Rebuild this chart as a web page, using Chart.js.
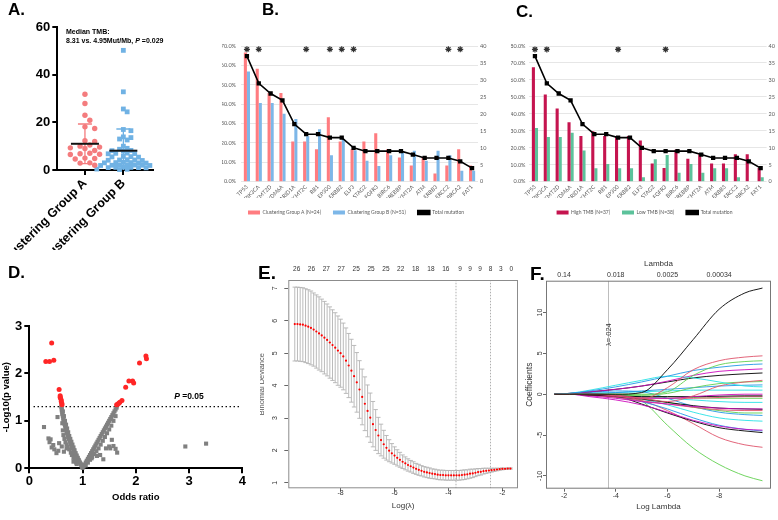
<!DOCTYPE html>
<html lang="en">
<head>
<meta charset="UTF-8">
<title>TMB clustering figure</title>
<script src="https://cdn.jsdelivr.net/npm/chart.js"></script>
<style>
  * { margin: 0; padding: 0; box-sizing: border-box; }
  body { width: 778px; height: 520px; background: #fff; position: relative; overflow: hidden;
         font-family: "Liberation Sans", Arial, sans-serif; }
  canvas { position: absolute; }
  .tag { position: absolute; font-weight: bold; font-size: 17px; line-height: 17px; z-index: 2; color: #000; }
</style>
</head>
<body>
<canvas id="cA" width="200" height="250" style="left:0;top:0"></canvas>
<canvas id="cB" width="290" height="195" style="left:200px;top:30px"></canvas>
<canvas id="cC" width="288" height="195" style="left:490px;top:30px"></canvas>
<canvas id="cD" width="260" height="270" style="left:0;top:250px"></canvas>
<canvas id="cE" width="262" height="265" style="left:260px;top:255px"></canvas>
<canvas id="cF" width="263" height="265" style="left:515px;top:255px"></canvas>

<div class="tag" style="left:8px;top:1px">A.</div>
<div class="tag" style="left:262px;top:1px">B.</div>
<div class="tag" style="left:516px;top:3px">C.</div>
<div class="tag" style="left:8px;top:264px">D.</div>
<div class="tag" style="left:258px;top:264px;font-size:19px">E.</div>
<div class="tag" style="left:530px;top:265px;font-size:19px">F.</div>

<script>
// ---------------- data ----------------
// A: TMB (Mut/Mb) per patient
const groupNames = ['Clustering Group A', 'Clustering Group B'];
const tmbA = [31.8, 27.9, 23.0, 20.9, 18.1, 17.4, 12.3, 12.0, 10.5, 10.0, 9.6, 9.3,
              9.0, 8.2, 7.0, 6.8, 6.6, 6.5, 5.0, 4.8, 4.6, 3.0, 2.9, 2.0];
const tmbB = [50.2, 32.8, 25.6, 24.4, 17.0, 16.5, 13.9, 13.6, 13.0, 12.6, 10.0, 9.1, 8.7,
              8.2, 8.1, 7.9, 7.1, 7.0, 6.9, 6.8, 5.7, 5.6, 5.5, 5.4, 4.3, 4.2, 4.2, 4.1, 4.0,
              3.2, 3.1, 3.1, 3.0, 3.0, 2.9, 2.2, 2.1, 2.1, 2.0, 2.0, 1.9, 1.9,
              1.2, 1.1, 1.1, 1.0, 1.0, 0.9, 0.4, 0.3, 0.2];
const tmbMean = [11.0, 8.1];
const tmbSD = [8.3, 9.1];
const tmbNote = ['Median TMB:', '8.31 vs. 4.95Mut/Mb, ', 'P', ' =0.029'];

// B / C: mutation frequency per gene
const genes = ['TP53', 'PIK3CA', 'KMT2D', 'KDM6A', 'ARID1A', 'KMT2C', 'RB1', 'EP300', 'ERBB2', 'ELF3',
               'STAG2', 'FGFR3', 'BIRC6', 'CREBBP', 'KMT2A', 'ATM', 'ERBB3', 'ERCC2', 'BRCA2', 'FAT1'];
const pctGroupA = [66.7, 58.3, 45.8, 45.8, 20.8, 20.8, 16.7, 33.3, 20.8, 16.7,
                   20.8, 25.0, 16.7, 12.5, 8.3, 12.5, 4.2, 8.3, 16.7, 8.3];
const pctGroupB = [56.9, 40.6, 40.6, 35.1, 32.4, 23.5, 27.0, 13.7, 22.0, 16.2,
                   10.8, 8.1, 13.7, 15.7, 16.0, 10.8, 16.0, 13.7, 5.6, 5.6];
const totalMut = [37, 29, 26, 24, 17, 14, 14, 13, 13, 10, 9, 9, 9, 9, 8, 7, 7, 7, 6, 4];
const sigB = [1, 1, 0, 0, 0, 1, 0, 1, 1, 1, 0, 0, 0, 0, 0, 0, 0, 1, 1, 0];
const pctHigh = [67.5, 51.4, 43.1, 35.1, 26.9, 29.7, 27.0, 26.3, 27.0, 24.3,
                 10.8, 8.1, 18.9, 13.5, 16.2, 10.8, 10.8, 16.2, 16.2, 8.1];
const pctLow = [31.6, 26.3, 26.3, 28.9, 18.4, 7.9, 10.5, 7.9, 7.9, 2.6,
                13.2, 15.8, 5.3, 10.5, 5.3, 7.9, 7.9, 2.6, 0, 2.6];
const sigC = [1, 1, 0, 0, 0, 0, 0, 1, 0, 0, 0, 1, 0, 0, 0, 0, 0, 0, 0, 0];

// D: volcano, [odds ratio, -log10 p]
const volcanoSig = [[0.31, 2.25], [0.38, 2.25], [0.42, 2.64], [0.46, 2.28], [0.56, 1.66], [0.58, 1.53],
  [0.585, 1.48], [0.60, 1.44], [0.60, 1.41], [0.61, 1.37], [0.58, 1.50], [0.615, 1.34],
  [1.64, 1.34], [1.66, 1.35], [1.68, 1.37], [1.70, 1.39], [1.74, 1.43], [1.81, 1.71], [1.87, 1.84],
  [1.94, 1.84], [1.96, 1.80], [2.07, 2.22], [2.19, 2.37], [2.20, 2.31]];
const volcanoNS = [
  [0.60, 1.30], [0.61, 1.26], [0.61, 1.22], [0.62, 1.18], [0.62, 1.14], [0.63, 1.10], [0.64, 1.06],
  [0.64, 1.02], [0.65, 0.98], [0.66, 0.94], [0.67, 0.90], [0.68, 0.86], [0.69, 0.82], [0.70, 0.78],
  [0.71, 0.74], [0.72, 0.70], [0.73, 0.66], [0.74, 0.62], [0.76, 0.58], [0.77, 0.54], [0.78, 0.50],
  [0.80, 0.46], [0.81, 0.42], [0.83, 0.38], [0.84, 0.34], [0.86, 0.30], [0.88, 0.26], [0.90, 0.22],
  [0.92, 0.18], [0.94, 0.14], [0.96, 0.10], [0.98, 0.06], [0.99, 0.03], [1.00, 0.01],
  [0.63, 1.20], [0.65, 1.10], [0.67, 1.00], [0.69, 0.92], [0.71, 0.84], [0.73, 0.76], [0.75, 0.68],
  [0.77, 0.62], [0.79, 0.56], [0.81, 0.50], [0.83, 0.44], [0.85, 0.38], [0.87, 0.32], [0.89, 0.27],
  [0.91, 0.22], [0.93, 0.17], [0.95, 0.12], [0.97, 0.08],
  [0.62, 0.95], [0.63, 0.80], [0.64, 0.70], [0.66, 0.62], [0.68, 0.55], [0.70, 0.50], [0.72, 0.45],
  [0.75, 0.40], [0.78, 0.33], [0.80, 0.28], [0.83, 0.22], [0.86, 0.17], [0.88, 0.12],
  [1.02, 0.04], [1.04, 0.08], [1.06, 0.12], [1.08, 0.16], [1.10, 0.20], [1.12, 0.24], [1.14, 0.28],
  [1.16, 0.32], [1.18, 0.36], [1.20, 0.40], [1.22, 0.44], [1.24, 0.48], [1.26, 0.52], [1.28, 0.56],
  [1.30, 0.60], [1.32, 0.64], [1.34, 0.68], [1.36, 0.72], [1.38, 0.76], [1.40, 0.80], [1.42, 0.84],
  [1.44, 0.88], [1.46, 0.92], [1.48, 0.96], [1.50, 1.00], [1.52, 1.04], [1.54, 1.08], [1.56, 1.12],
  [1.58, 1.16], [1.60, 1.20], [1.62, 1.24], [1.64, 1.28],
  [1.06, 0.06], [1.10, 0.12], [1.14, 0.18], [1.18, 0.24], [1.22, 0.30], [1.26, 0.36], [1.30, 0.42],
  [1.34, 0.50], [1.38, 0.58], [1.42, 0.66], [1.46, 0.74], [1.50, 0.82], [1.54, 0.90], [1.58, 1.00],
  [1.62, 1.10],
  [0.276, 0.87], [0.53, 1.08], [0.36, 0.63], [0.40, 0.61], [0.38, 0.55], [0.45, 0.49], [0.42, 0.44],
  [0.47, 0.40], [0.51, 0.32], [0.545, 0.37], [0.61, 0.46], [0.65, 0.35], [0.56, 0.53], [0.70, 0.42],
  [0.83, 0.14], [0.89, 0.09], [1.08, 0.14], [1.17, 0.21], [1.27, 0.26], [1.33, 0.28], [1.39, 0.19],
  [1.44, 0.42], [1.50, 0.46], [1.55, 0.60], [1.58, 0.47], [1.62, 0.41], [1.65, 0.33], [1.52, 0.42],
  [2.93, 0.46], [3.32, 0.52]];
const pCut = 1.301;

// E: cross-validation (binomial deviance)
const cvLogLambda = [-9.7, -9.6, -9.5, -9.4, -9.3, -9.2, -9.1, -9.0, -8.9, -8.8,
  -8.7, -8.6, -8.5, -8.4, -8.3, -8.2, -8.1, -8.0, -7.9, -7.8,
  -7.7, -7.6, -7.5, -7.4, -7.3, -7.2, -7.1, -7.0, -6.9, -6.8,
  -6.7, -6.6, -6.5, -6.4, -6.3, -6.2, -6.1, -6.0, -5.9, -5.8,
  -5.7, -5.6, -5.5, -5.4, -5.3, -5.2, -5.1, -5.0, -4.9, -4.8,
  -4.7, -4.6, -4.5, -4.4, -4.3, -4.2, -4.1, -4.0, -3.9, -3.8,
  -3.7, -3.6, -3.5, -3.4, -3.3, -3.2, -3.1, -3.0, -2.9, -2.8,
  -2.7, -2.6, -2.5, -2.4, -2.3, -2.2, -2.1, -2.0, -1.9, -1.8, -1.7];
const cvMean = [5.90, 5.90, 5.89, 5.88, 5.85, 5.82, 5.78, 5.73, 5.67, 5.61,
  5.55, 5.48, 5.41, 5.33, 5.25, 5.17, 5.08, 5.00, 4.90, 4.77,
  4.62, 4.46, 4.29, 4.10, 3.88, 3.65, 3.44, 3.22, 3.01, 2.81,
  2.63, 2.46, 2.32, 2.19, 2.08, 1.99, 1.91, 1.84, 1.77, 1.71,
  1.65, 1.60, 1.55, 1.51, 1.47, 1.43, 1.40, 1.37, 1.34, 1.32,
  1.30, 1.28, 1.27, 1.25, 1.24, 1.24, 1.23, 1.23, 1.23, 1.23,
  1.23, 1.23, 1.24, 1.25, 1.26, 1.28, 1.29, 1.31, 1.33, 1.34,
  1.36, 1.37, 1.38, 1.39, 1.40, 1.41, 1.42, 1.43, 1.43, 1.44, 1.44];
const cvSE = [1.14, 1.14, 1.14, 1.14, 1.14, 1.14, 1.14, 1.13, 1.13, 1.13,
  1.12, 1.12, 1.11, 1.10, 1.09, 1.08, 1.07, 1.05, 1.03, 1.01,
  0.99, 0.97, 0.95, 0.92, 0.89, 0.86, 0.83, 0.80, 0.76, 0.70,
  0.63, 0.56, 0.49, 0.43, 0.38, 0.34, 0.30, 0.27, 0.25, 0.23,
  0.21, 0.20, 0.19, 0.18, 0.18, 0.17, 0.17, 0.16, 0.16, 0.16,
  0.16, 0.15, 0.15, 0.15, 0.15, 0.15, 0.15, 0.15, 0.15, 0.15,
  0.15, 0.15, 0.15, 0.15, 0.14, 0.14, 0.13, 0.12, 0.11, 0.10,
  0.09, 0.08, 0.07, 0.06, 0.05, 0.04, 0.03, 0.03, 0.02, 0.02, 0.02];
const nzeroAt = [-9.63, -9.08, -8.53, -7.98, -7.42, -6.87, -6.32, -5.77, -5.22, -4.65,
                 -4.10, -3.57, -3.20, -2.83, -2.44, -2.06, -1.67];
const nzero = [26, 26, 27, 27, 25, 25, 25, 22, 18, 18, 16, 9, 9, 9, 8, 3, 0];
const lambdaMin = -3.72;
const lambda1se = -2.44;

// F: coefficient paths
const pathLogLambda = [-1.62, -2.2, -3, -4, -5, -6, -7, -8, -9, -9.68];
const coefPaths = [
  [0, 0, 0, 0, 0.2, 3.0, 6.7, 10.4, 12.4, 13.0],
  [0, 0, 0, -0.2, -0.6, 0.8, 3.0, 4.1, 4.55, 4.7],
  [0, 0, 0, 0, 0, 0.3, 2.3, 3.6, 4.0, 4.1],
  [0, 0.1, 0.4, 0.9, 1.5, 2.2, 2.9, 3.3, 3.6, 3.7],
  [0, 0.1, 0.5, 1.1, 1.7, 2.2, 2.0, 1.5, 1.0, 0.9],
  [0, 0.1, 0.3, 0.6, 1.0, 1.6, 2.3, 2.8, 3.0, 3.1],
  [0, 0.1, 0.3, 0.6, 1.0, 1.5, 2.0, 2.3, 2.5, 2.6],
  [0, 0, 0, -0.1, -0.5, -0.9, -0.2, 1.0, 1.5, 1.7],
  [0, 0, 0, 0, -0.1, 0.1, 0.8, 1.3, 1.5, 1.55],
  [0, 0, 0.1, 0.2, 0.4, 0.6, 0.8, 1.0, 1.1, 1.14],
  [0, 0, 0.1, 0.2, 0.3, 0.4, 0.5, 0.5, 0.5, 0.5],
  [0, 0, 0, -0.2, -0.5, -0.5, -0.3, -0.1, 0, 0],
  [0, 0, -0.1, -0.2, -0.3, -0.3, -0.3, -0.25, -0.2, -0.2],
  [0, 0, -0.1, -0.3, -0.4, -0.5, -0.5, -0.4, -0.3, -0.3],
  [0, 0, 0, -0.1, -0.2, -0.3, -0.4, -0.5, -0.5, -0.5],
  [0, 0, 0, -0.1, -0.3, -0.5, -0.7, -0.9, -1.0, -1.0],
  [0, 0, -0.2, -0.5, -0.9, -1.2, -1.5, -1.7, -1.8, -1.8],
  [0, 0, -0.1, -0.3, -0.6, -1.0, -1.4, -1.7, -1.8, -1.85],
  [0, 0, -0.1, -0.4, -0.8, -1.2, -1.6, -1.9, -2.0, -2.0],
  [0, 0, 0, -0.2, -0.5, -1.0, -1.6, -2.0, -2.3, -2.3],
  [0, 0, 0.2, 0.4, 0.3, -0.5, -1.5, -2.2, -2.5, -2.6],
  [0, 0, 0, -0.2, -0.6, -1.3, -2.2, -2.9, -3.2, -3.3],
  [0, 0, -0.3, -0.7, -1.3, -2.2, -3.2, -3.9, -4.3, -4.4],
  [0, 0, 0, -0.3, -0.9, -1.8, -2.9, -3.8, -4.3, -4.5],
  [0, 0, 0, -0.2, -1.2, -2.3, -3.3, -4.1, -4.5, -4.7],
  [0, 0, -0.1, -0.3, -0.8, -2.0, -3.6, -5.3, -6.2, -6.5],
  [0, 0, 0, -0.1, -0.8, -3.8, -6.6, -8.6, -10.0, -10.6]];
const coefColor = [0, 1, 2, 3, 4, 5, 0, 1, 2, 3, 4, 5, 0, 1, 2, 4, 5, 0, 1, 2, 3, 4, 5, 3, 0, 1, 2];
const lambdaTickAt = [-2, -4, -6, -8];
const lambdaTickLabel = ['0.14', '0.018', '0.0025', '0.00034'];

// ---------------- shared setup ----------------
Chart.defaults.font.family = '"Liberation Sans", Arial, sans-serif';
Chart.defaults.animation = false;
Chart.defaults.responsive = false;
Chart.defaults.maintainAspectRatio = false;
Chart.defaults.plugins.legend.display = false;
Chart.defaults.plugins.tooltip.enabled = false;

const rPalette = ['#000000', '#DF536B', '#61D04F', '#2297E6', '#28E2E5', '#CD0BBC'];
const fixedTicks = vals => scale => { scale.ticks = vals.map(v => ({value: v})); };
// fix an axis box size and stop it from pushing the plot area around
const fitTo = (w, h) => s => {
  if (w !== null) s.width = w;
  if (h !== null) s.height = h;
  s.paddingLeft = s.paddingRight = s.paddingTop = s.paddingBottom = 0;
};

// box round the plot region (R style)
const boxPlugin = {
  id: 'box',
  afterDraw(chart, args, opts) {
    const a = chart.chartArea, ctx = chart.ctx;
    ctx.save();
    ctx.strokeStyle = opts.color || '#888';
    ctx.lineWidth = 1;
    ctx.strokeRect(a.left + 0.5, a.top + 0.5, a.right - a.left - 1, a.bottom - a.top - 1);
    ctx.restore();
  }
};

// y tick labels turned 90 degrees (R las=0)
const rotYPlugin = {
  id: 'rotY',
  afterDraw(chart, args, opts) {
    const s = chart.scales.y, ctx = chart.ctx;
    ctx.save();
    ctx.font = opts.font;
    ctx.fillStyle = opts.color;
    ctx.textAlign = 'center';
    ctx.textBaseline = 'middle';
    s.ticks.forEach(t => {
      ctx.save();
      ctx.translate(chart.chartArea.left - opts.gap, s.getPixelForValue(t.value));
      ctx.rotate(-Math.PI / 2);
      ctx.fillText(String(t.value), 0, 0);
      ctx.restore();
    });
    ctx.restore();
  }
};

// ---------------- A ----------------
// simple beeswarm so dots of equal value sit side by side
function swarm(values, centre, diam, pxPerVal, pxPerCat) {
  const placed = [];
  return values.map(v => {
    let off = 0;
    for (let k = 0; k < 30; k++) {
      const cand = k === 0 ? 0 : (k % 2 ? 1 : -1) * Math.ceil(k / 2) * diam * 0.9;
      const hit = placed.some(p => Math.hypot(p.x - cand, (p.v - v) * pxPerVal) < diam);
      if (!hit) { off = cand; break; }
    }
    placed.push({x: off, v: v});
    return {x: centre + off / pxPerCat, y: v};
  });
}

const groupColors = ['#F47C7E', '#70B2E4'];
const pxVal = 143.3 / 60, pxCat = 38.3;

const panelAExtras = {
  id: 'panelAExtras',
  afterDatasetsDraw(chart) {
    const {ctx, scales: {x, y}} = chart;
    ctx.save();
    tmbMean.forEach((m, i) => {
      const cx = x.getPixelForValue(i);
      const top = y.getPixelForValue(m + tmbSD[i]);
      const lo = Math.max(0, m - tmbSD[i]);
      const bot = y.getPixelForValue(lo);
      ctx.strokeStyle = groupColors[i];
      ctx.lineWidth = 1.3;
      ctx.beginPath();
      ctx.moveTo(cx, top); ctx.lineTo(cx, bot);
      ctx.moveTo(cx - 7, top); ctx.lineTo(cx + 7, top);
      if (lo > 0) { ctx.moveTo(cx - 7, bot); ctx.lineTo(cx + 7, bot); }
      ctx.stroke();
      const my = y.getPixelForValue(m);
      ctx.strokeStyle = '#111';
      ctx.lineWidth = 2;
      ctx.beginPath(); ctx.moveTo(cx - 14, my); ctx.lineTo(cx + 14, my); ctx.stroke();
    });
    // median note
    const fam = '"Liberation Sans", Arial, sans-serif';
    ctx.fillStyle = '#000';
    ctx.font = 'bold 7px ' + fam;
    ctx.fillText(tmbNote[0], 66, 33.5);
    let tx = 66;
    ctx.fillText(tmbNote[1], tx, 43); tx += ctx.measureText(tmbNote[1]).width;
    ctx.font = 'italic bold 7px ' + fam;
    ctx.fillText(tmbNote[2], tx, 43); tx += ctx.measureText(tmbNote[2]).width;
    ctx.font = 'bold 7px ' + fam;
    ctx.fillText(tmbNote[3], tx, 43);
    ctx.restore();
  }
};

const blackAxis = {
  border: {display: true, color: '#000', width: 2},
  grid: {display: true, drawOnChartArea: false, drawTicks: true, tickLength: 5, color: '#000', lineWidth: 2}
};

new Chart(document.getElementById('cA'), {
  type: 'scatter',
  data: {
    datasets: [
      {data: swarm(tmbA, 0, 5.4, pxVal, pxCat), pointStyle: 'circle', pointRadius: 2.7,
       backgroundColor: groupColors[0], borderWidth: 0, clip: false},
      {data: swarm(tmbB, 1, 4.2, pxVal, pxCat), pointStyle: 'rect', pointRadius: 3.4,
       backgroundColor: groupColors[1], borderWidth: 0, clip: false}
    ]
  },
  options: {
    layout: {padding: {top: 27, right: 46.7, left: 0, bottom: 0}},
    scales: {
      x: Object.assign({
        type: 'linear', min: -0.72, max: 1.78,
        afterBuildTicks: fixedTicks([0, 1]),
        afterFit: fitTo(null, 80),
        ticks: {callback: v => groupNames[v], minRotation: 45, maxRotation: 45, autoSkip: false,
                font: {size: 12.5, weight: 'bold'}, color: '#000', padding: 1}
      }, blackAxis),
      y: Object.assign({
        min: 0, max: 60,
        afterBuildTicks: fixedTicks([0, 20, 40, 60]),
        afterFit: fitTo(57.3, null),
        ticks: {font: {size: 13, weight: 'bold'}, color: '#000', padding: 2}
      }, blackAxis)
    }
  },
  plugins: [panelAExtras]
});

// ---------------- B and C ----------------
const smallFont = {size: 5.5, family: 'Lato'};

function mutationChart(id, o) {
  const rank = it => (it.datasetIndex === 1 ? 9 : it.datasetIndex);
  return new Chart(document.getElementById(id), {
    type: 'bar',
    data: {
      labels: genes,
      datasets: [
        {type: 'line', label: 'sig', data: o.sig.map(s => (s ? o.starAt : null)), yAxisID: 'y',
         showLine: false, pointStyle: 'star', pointRadius: 3, borderColor: '#333', borderWidth: 1.2},
        {type: 'line', label: 'Total mutation', data: totalMut, yAxisID: 'y1', borderColor: '#000',
         backgroundColor: '#000', borderWidth: 1.6, pointStyle: 'rect', pointRadius: 1.9},
        {label: o.names[0], data: o.a, backgroundColor: o.colors[0], yAxisID: 'y',
         barPercentage: 1, categoryPercentage: 0.52},
        {label: o.names[1], data: o.b, backgroundColor: o.colors[1], yAxisID: 'y',
         barPercentage: 1, categoryPercentage: 0.52}
      ]
    },
    options: {
      layout: {padding: {left: o.padLeft, top: 16, right: 0, bottom: 0}},
      plugins: {
        legend: {
          display: true, position: 'bottom',
          labels: {boxWidth: 12, boxHeight: 4, padding: 12, color: '#595959',
                   font: {size: 5, family: 'Lato'},
                   filter: it => it.text !== 'sig',
                   sort: (a, b) => rank(a) - rank(b)}
        }
      },
      scales: {
        x: {grid: {display: false, drawTicks: false, tickLength: 0}, border: {display: false},
            ticks: {autoSkip: false, minRotation: 45, maxRotation: 45, font: smallFont,
                    color: '#595959', padding: 2},
            afterFit: fitTo(null, 16.3)},
        y: {position: 'left', min: 0, max: o.max,
            ticks: {stepSize: 10, callback: v => v.toFixed(1) + '%', font: smallFont,
                    color: '#595959', padding: o.yPad},
            grid: {color: '#e6e6e6', drawTicks: false, tickLength: 0}, border: {display: false},
            afterFit: fitTo(o.yWidth, null)},
        y1: {position: 'right', min: 0, max: 40,
             ticks: {stepSize: 5, font: smallFont, color: '#595959', padding: 2},
             grid: {display: false, drawTicks: false, tickLength: 0}, border: {display: false},
             afterFit: fitTo(o.y1Width, null)}
      }
    }
  });
}

mutationChart('cB', {
  a: pctGroupA, b: pctGroupB, sig: sigB, starAt: 68.3, max: 70,
  names: ['Clustering Group A (N=24)', 'Clustering Group B (N=51)'],
  colors: ['#FF7C80', '#7DB7E8'], padLeft: 22, yWidth: 19, yPad: 5, y1Width: 12
});
mutationChart('cC', {
  a: pctHigh, b: pctLow, sig: sigC, starAt: 78, max: 80,
  names: ['High TMB (N=37)', 'Low TMB (N=38)'],
  colors: ['#C5144F', '#5CC29B'], padLeft: 21, yWidth: 18, yPad: 3.5, y1Width: 11.4
});

// ---------------- D ----------------
const volcanoNote = {
  id: 'volcanoNote',
  afterDraw(chart) {
    const {ctx, scales: {x, y}} = chart;
    const fam = '"Liberation Sans", Arial, sans-serif';
    let tx = x.getPixelForValue(2.72);
    const ty = y.getPixelForValue(1.46);
    ctx.save();
    ctx.fillStyle = '#000';
    ctx.font = 'italic bold 8.5px ' + fam;
    ctx.fillText('P', tx, ty); tx += ctx.measureText('P').width;
    ctx.font = 'bold 8.5px ' + fam;
    ctx.fillText(' =0.05', tx, ty);
    ctx.restore();
  }
};

new Chart(document.getElementById('cD'), {
  type: 'scatter',
  data: {
    datasets: [
      {data: volcanoSig.map(p => ({x: p[0], y: p[1]})), pointStyle: 'circle', pointRadius: 2.5,
       backgroundColor: '#FF2626', borderWidth: 0, clip: false},
      {data: volcanoNS.map(p => ({x: p[0], y: p[1]})), pointStyle: 'rect', pointRadius: 2.9,
       backgroundColor: '#808080', borderWidth: 0, clip: false},
      {type: 'line', data: [{x: 0.08, y: pCut}, {x: 3.97, y: pCut}], borderColor: '#000',
       borderWidth: 1.4, borderDash: [1.4, 2.6], pointRadius: 0}
    ]
  },
  options: {
    layout: {padding: {top: 76, right: 17.7, left: 0, bottom: 0}},
    scales: {
      x: Object.assign({
        type: 'linear', min: 0, max: 4,
        afterBuildTicks: fixedTicks([0, 1, 2, 3, 4]),
        afterFit: fitTo(null, 51.7),
        ticks: {font: {size: 13, weight: 'bold'}, color: '#000', padding: 0},
        title: {display: true, text: 'Odds ratio', font: {size: 9.5, weight: 'bold'}, color: '#000',
                padding: {top: 0, bottom: 17}}
      }, blackAxis),
      y: Object.assign({
        min: 0, max: 3,
        afterBuildTicks: fixedTicks([0, 1, 2, 3]),
        afterFit: fitTo(29.3, null),
        ticks: {font: {size: 13, weight: 'bold'}, color: '#000', padding: 2},
        title: {display: true, text: '-Log10(p value)', font: {size: 9.5, weight: 'bold'}, color: '#000',
                padding: {top: 1, bottom: 0}}
      }, blackAxis)
    }
  },
  plugins: [volcanoNote]
});

// ---------------- E ----------------
const cvErrorBars = {
  id: 'cvErrorBars',
  beforeDatasetsDraw(chart) {
    const {ctx, scales: {x, y}} = chart;
    ctx.save();
    ctx.strokeStyle = '#b3b3b3';
    ctx.lineWidth = 0.9;
    ctx.beginPath();
    cvLogLambda.forEach((lx, i) => {
      const px = x.getPixelForValue(lx);
      const hi = y.getPixelForValue(cvMean[i] + cvSE[i]);
      const lo = y.getPixelForValue(cvMean[i] - cvSE[i]);
      ctx.moveTo(px, hi); ctx.lineTo(px, lo);
      ctx.moveTo(px - 2.2, hi); ctx.lineTo(px + 2.2, hi);
      ctx.moveTo(px - 2.2, lo); ctx.lineTo(px + 2.2, lo);
    });
    ctx.stroke();
    ctx.restore();
  }
};

const eMin = -9.94, eMax = -1.42, eYMin = 0.83, eYMax = 7.26;
const rGrey = '#333';

new Chart(document.getElementById('cE'), {
  type: 'scatter',
  data: {
    datasets: [
      {data: cvLogLambda.map((lx, i) => ({x: lx, y: cvMean[i]})), pointStyle: 'circle', pointRadius: 1.1,
       backgroundColor: '#FF0000', borderWidth: 0},
      {type: 'line', data: [{x: lambdaMin, y: eYMin}, {x: lambdaMin, y: eYMax}], borderColor: '#9a9a9a',
       borderWidth: 0.8, borderDash: [1.5, 1.5], pointRadius: 0},
      {type: 'line', data: [{x: lambda1se, y: eYMin}, {x: lambda1se, y: eYMax}], borderColor: '#9a9a9a',
       borderWidth: 0.8, borderDash: [1.5, 1.5], pointRadius: 0}
    ]
  },
  options: {
    layout: {padding: {top: 0, right: 2, left: 0, bottom: 0}},
    plugins: {box: {color: '#8c8c8c'}, rotY: {font: '7px "Liberation Sans", Arial', color: rGrey, gap: 13}},
    scales: {
      x: {type: 'linear', min: eMin, max: eMax,
          afterBuildTicks: fixedTicks([-8, -6, -4, -2]),
          afterFit: fitTo(null, 31.7),
          border: {display: false},
          grid: {display: true, drawOnChartArea: false, drawTicks: true, tickLength: 3, color: '#666'},
          ticks: {font: {size: 7}, color: rGrey, padding: -2},
          title: {display: true, text: 'Log(λ)', font: {size: 8}, color: rGrey, padding: {top: 0, bottom: 9}}},
      xt: {type: 'linear', position: 'top', min: eMin, max: eMax,
           afterBuildTicks: fixedTicks(nzeroAt),
           afterFit: fitTo(null, 25),
           border: {display: false}, grid: {display: false, drawTicks: false, tickLength: 0},
           ticks: {autoSkip: false, maxRotation: 0, callback: v => nzero[nzeroAt.indexOf(v)],
                   font: {size: 6.5}, color: rGrey, padding: 7.2}},
      y: {min: eYMin, max: eYMax,
          afterBuildTicks: fixedTicks([1, 2, 3, 4, 5, 6, 7]),
          afterFit: fitTo(28.3, null),
          border: {display: false},
          grid: {display: true, drawOnChartArea: false, drawTicks: true, tickLength: 4, color: '#666'},
          ticks: {display: false},
          title: {display: true, text: 'Binomial Deviance', font: {size: 7.5}, color: '#555',
                  padding: {top: -2.5, bottom: 0}}}
    }
  },
  plugins: [cvErrorBars, boxPlugin, rotYPlugin]
});

// ---------------- F ----------------
const lambdaNote = {
  id: 'lambdaNote',
  afterDatasetsDraw(chart) {
    const {ctx, scales: {x, y}} = chart;
    ctx.save();
    ctx.translate(x.getPixelForValue(lambdaMin), y.getPixelForValue(7.3));
    ctx.rotate(-Math.PI / 2);
    ctx.font = '7.5px "Liberation Sans", Arial';
    ctx.fillStyle = '#333';
    ctx.textAlign = 'center';
    ctx.textBaseline = 'middle';
    ctx.fillText('λ=.024', 0, 0);
    ctx.restore();
  }
};

const fMin = -10.01, fMax = -1.30;

new Chart(document.getElementById('cF'), {
  type: 'line',
  data: {
    datasets: coefPaths.map((p, i) => ({
      data: p.map((c, j) => ({x: pathLogLambda[j], y: c})),
      xAxisID: 'x', borderColor: rPalette[coefColor[i]], borderWidth: 0.9,
      pointRadius: 0, cubicInterpolationMode: 'monotone'
    })).concat([{
      data: [{x: lambdaMin, y: -11.57}, {x: lambdaMin, y: 13.9}], xAxisID: 'x',
      borderColor: '#b5b5b5', borderWidth: 0.9, pointRadius: 0
    }])
  },
  options: {
    layout: {padding: {top: 0, right: 7, left: 0, bottom: 0}},
    plugins: {box: {color: '#777'}, rotY: {font: '7px "Liberation Sans", Arial', color: rGrey, gap: 6}},
    scales: {
      x: {type: 'linear', reverse: true, min: fMin, max: fMax,
          afterBuildTicks: fixedTicks(lambdaTickAt),
          afterFit: fitTo(null, 31.3),
          border: {display: false},
          grid: {display: true, drawOnChartArea: false, drawTicks: true, tickLength: 3, color: '#666'},
          ticks: {font: {size: 7}, color: rGrey, padding: 0.5},
          title: {display: true, text: 'Log Lambda', font: {size: 8}, color: rGrey, padding: {top: 0, bottom: 8.6}}},
      xt: {type: 'linear', position: 'top', reverse: true, min: fMin, max: fMax,
           afterBuildTicks: fixedTicks(lambdaTickAt),
           afterFit: fitTo(null, 25.7),
           border: {display: false}, grid: {display: false, drawTicks: false, tickLength: 0},
           ticks: {autoSkip: false, maxRotation: 0,
                   callback: v => lambdaTickLabel[lambdaTickAt.indexOf(v)],
                   font: {size: 7}, color: rGrey, padding: 1.5},
           title: {display: true, text: 'Lambda', font: {size: 8}, color: rGrey, padding: {top: 3.6, bottom: 0}}},
      y: {min: -11.57, max: 13.9,
          afterBuildTicks: fixedTicks([-10, -5, 0, 5, 10]),
          afterFit: fitTo(31, null),
          border: {display: false},
          grid: {display: true, drawOnChartArea: false, drawTicks: true, tickLength: 3, color: '#666'},
          ticks: {display: false},
          title: {display: true, text: 'Coefficients', font: {size: 8.5}, color: rGrey,
                  padding: {top: 10, bottom: 0}}}
    }
  },
  plugins: [boxPlugin, rotYPlugin, lambdaNote]
});
</script>
</body>
</html>
